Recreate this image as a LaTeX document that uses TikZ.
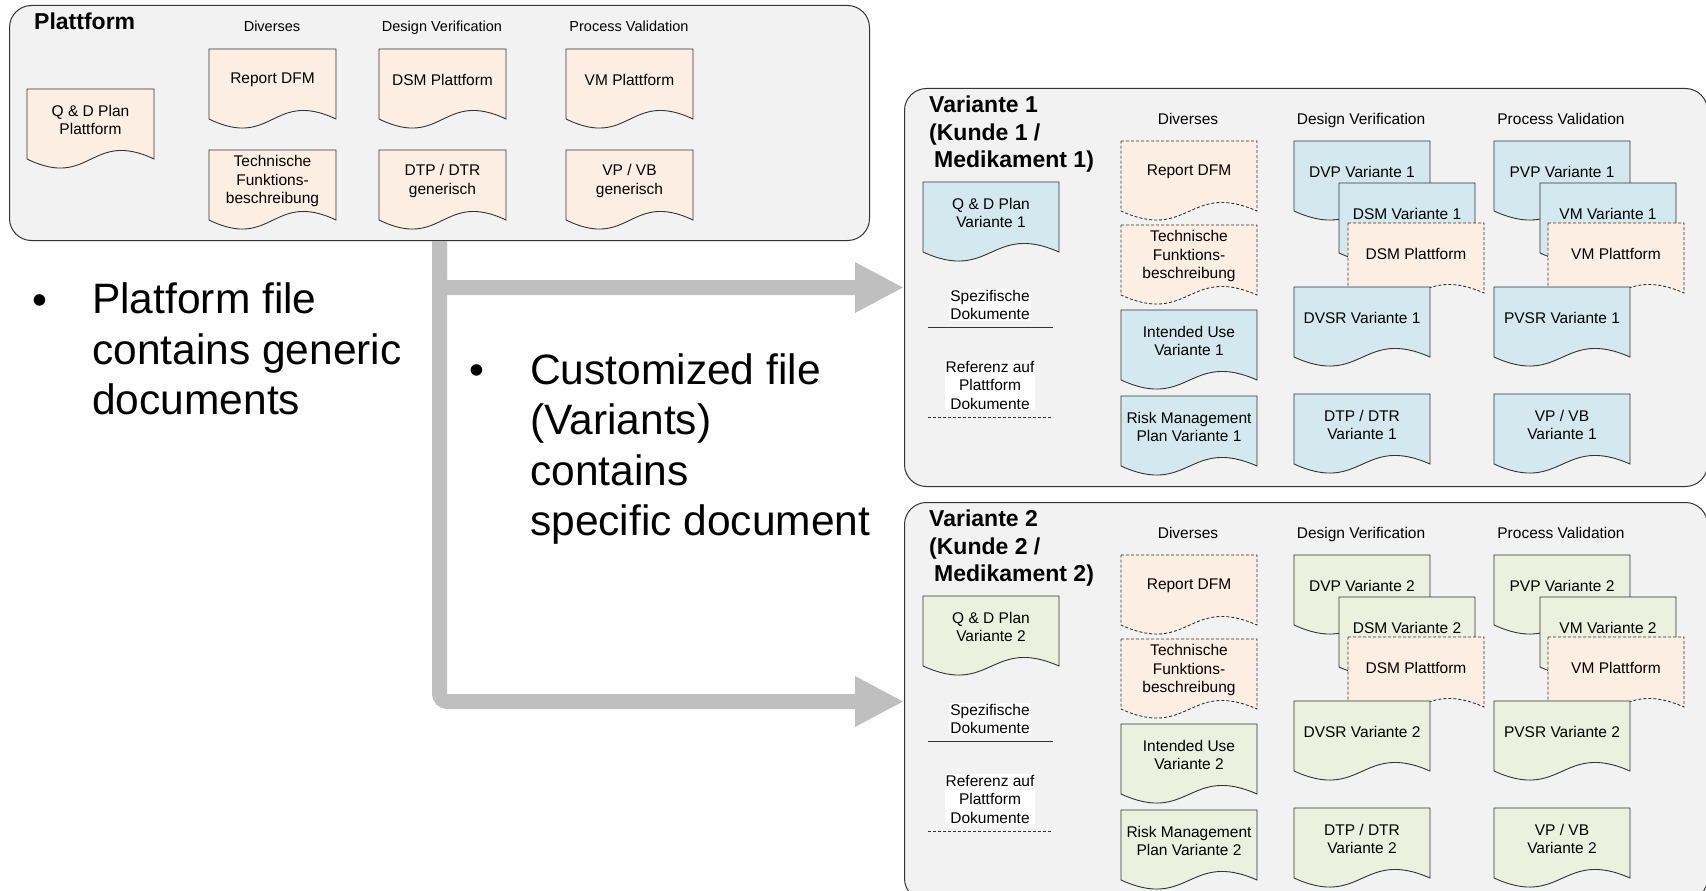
\documentclass[tikz,border=0pt]{standalone}
\usepackage{fontspec}
\setmainfont{Liberation Sans}
\usepackage{xcolor}
\usepackage{tikz}
\usetikzlibrary{arrows.meta}
\usetikzlibrary{positioning}

\definecolor{pfirsich}{HTML}{FDEEE3}
\definecolor{blau}{HTML}{D4E9EF}
\definecolor{gruen}{HTML}{EBF1DE}
\definecolor{hellgrau}{HTML}{F2F2F2}
\definecolor{pfeilgrau}{HTML}{BFBFBF}

\tikzset{
  rahmen/.style={draw=black!80, line width=1pt, fill=hellgrau, rounded corners=22pt, inner sep=0pt},
  dokrand/.style={draw=black!80, line width=0.9pt},
  gestrichelt/.style={dash pattern=on 3pt off 2pt},
  doktext/.style={align=center, font=\fontsize{15.5}{18.5}\selectfont, inner sep=0pt},
  kopf/.style={font=\fontsize{15.5}{18.5}\selectfont, anchor=base, inner sep=0pt},
  titel/.style={font=\bfseries\fontsize{23}{27.5}\selectfont, align=left, inner sep=0pt},
  gross/.style={font=\fontsize{42.5}{50.5}\selectfont, align=left, inner sep=0pt},
  pfeil/.style={draw=pfeilgrau, line width=15pt, rounded corners=8pt, -{Triangle[length=49pt,width=47pt]}},
}

% Dokument-Symbol: #1 Stil, #2 Name, #3 x, #4 y (oben), #5 Breite, #6 Text
\newcommand{\dok}[6]{%
  \begin{scope}[shift={(#3,#4)}]
    \draw[dokrand,#1] (0,0) -- (#5,0) -- (#5,70) .. controls (0.5*#5,40) and (0.5*#5,101) .. (0,70) -- cycle;
    \node[doktext] (#2) at (0.5*#5,31) {#6};
  \end{scope}}

\begin{document}
\begin{tikzpicture}[x=1pt,y=-1pt]
  \useasboundingbox (0,0) rectangle (1706,891);

  % Plattform
  \node[rahmen, minimum width=860, minimum height=235, anchor=north west] (platt) at (9,5) {};
  \node[titel, anchor=base west] (platttitel) at (34,29.5) {Plattform};
  \node[kopf, font=\fontsize{14.5}{17}\selectfont] (kdiv) at (272,31.5) {Diverses};
  \node[kopf, font=\fontsize{14.5}{17}\selectfont] (kdv) at (442,31.5) {Design Verification};
  \node[kopf, font=\fontsize{14.5}{17}\selectfont] (kpv) at (629,31.5) {Process Validation};

  \dok{fill=pfirsich}{qdp}{27}{89}{127}{Q \& D Plan\\Plattform}
  \dok{fill=pfirsich}{dfmp}{209}{49}{127}{Report DFM}
  \dok{fill=pfirsich}{tfbp}{209}{150}{127}{Technische\\Funktions-\\beschreibung}
  \dok{fill=pfirsich}{dsmp}{379}{49}{127}{DSM Plattform}
  \dok{fill=pfirsich}{dtpp}{379}{150}{127}{DTP / DTR\\generisch}
  \dok{fill=pfirsich}{vmp}{566}{49}{127}{VM Plattform}
  \dok{fill=pfirsich}{vpp}{566}{150}{127}{VP / VB\\generisch}

  % Varianten
  \foreach \v/\dy/\farbe in {1/0/blau, 2/414/gruen}{
    \node[rahmen, minimum width=803, minimum height=398, anchor=north west] (var\v) at (904,88+\dy) {};
    \node[titel, anchor=north west] (vartitel\v) at (929,96+\dy) {Variante \v\\(Kunde \v\ /\\\hspace*{5pt}Medikament \v)};
    \node[kopf] (kdiv\v) at (1188,124.5+\dy) {Diverses};
    \node[kopf] (kdv\v) at (1361,124.5+\dy) {Design Verification};
    \node[kopf] (kpv\v) at (1561,124.5+\dy) {Process Validation};

    \dok{fill=\farbe}{qd\v}{923}{182+\dy}{136}{Q \& D Plan\\Variante \v}
    \node[doktext, fill=white, inner sep=1pt] (spez\v) at (990,305+\dy) {Spezifische\\Dokumente};
    \draw[line width=1pt, black!80] (928,327+\dy) -- (1053,327+\dy);
    \node[doktext, fill=white, inner sep=1pt] (ref\v) at (990,385+\dy) {Referenz auf\\Plattform\\Dokumente};
    \draw[line width=1pt, black!80, gestrichelt] (928,417+\dy) -- (1053,417+\dy);

    \dok{fill=pfirsich, gestrichelt}{dfm\v}{1121}{141+\dy}{136}{Report DFM}
    \dok{fill=pfirsich, gestrichelt}{tfb\v}{1121}{225+\dy}{136}{Technische\\Funktions-\\beschreibung}
    \dok{fill=\farbe}{iu\v}{1121}{310+\dy}{136}{Intended Use\\Variante \v}
    \dok{fill=\farbe}{rmp\v}{1121}{396+\dy}{136}{Risk Management\\Plan Variante \v}

    \dok{fill=\farbe}{dvp\v}{1294}{141+\dy}{136}{DVP Variante \v}
    \dok{fill=\farbe}{dsm\v}{1339}{183+\dy}{136}{DSM Variante \v}
    \dok{fill=pfirsich, gestrichelt}{dsmp\v}{1348}{223+\dy}{136}{DSM Plattform}
    \dok{fill=\farbe}{dvsr\v}{1294}{287+\dy}{136}{DVSR Variante \v}
    \dok{fill=\farbe}{dtp\v}{1294}{394+\dy}{136}{DTP / DTR\\Variante \v}

    \dok{fill=\farbe}{pvp\v}{1494}{141+\dy}{136}{PVP Variante \v}
    \dok{fill=\farbe}{vm\v}{1540}{183+\dy}{136}{VM Variante \v}
    \dok{fill=pfirsich, gestrichelt}{vmp\v}{1548}{223+\dy}{136}{VM Plattform}
    \dok{fill=\farbe}{pvsr\v}{1494}{287+\dy}{136}{PVSR Variante \v}
    \dok{fill=\farbe}{vp\v}{1494}{394+\dy}{136}{VP / VB\\Variante \v}
  }

  % Pfeile
  \draw[pfeil] (platt.south) |- (var1.west);
  \draw[pfeil] (platt.south) |- (var2.west);

  % Texte
  \node[gross, anchor=base] (punkt1) at (40,314) {•};
  \node[gross, anchor=north west] (text1) at (92,283) {Platform file\\contains generic\\documents};
  \node[gross, anchor=base] (punkt2) at (477,384) {•};
  \node[gross, anchor=north west] (text2) at (530,353) {Customized file\\(Variants)\\contains\\specific document};
\end{tikzpicture}
\end{document}
